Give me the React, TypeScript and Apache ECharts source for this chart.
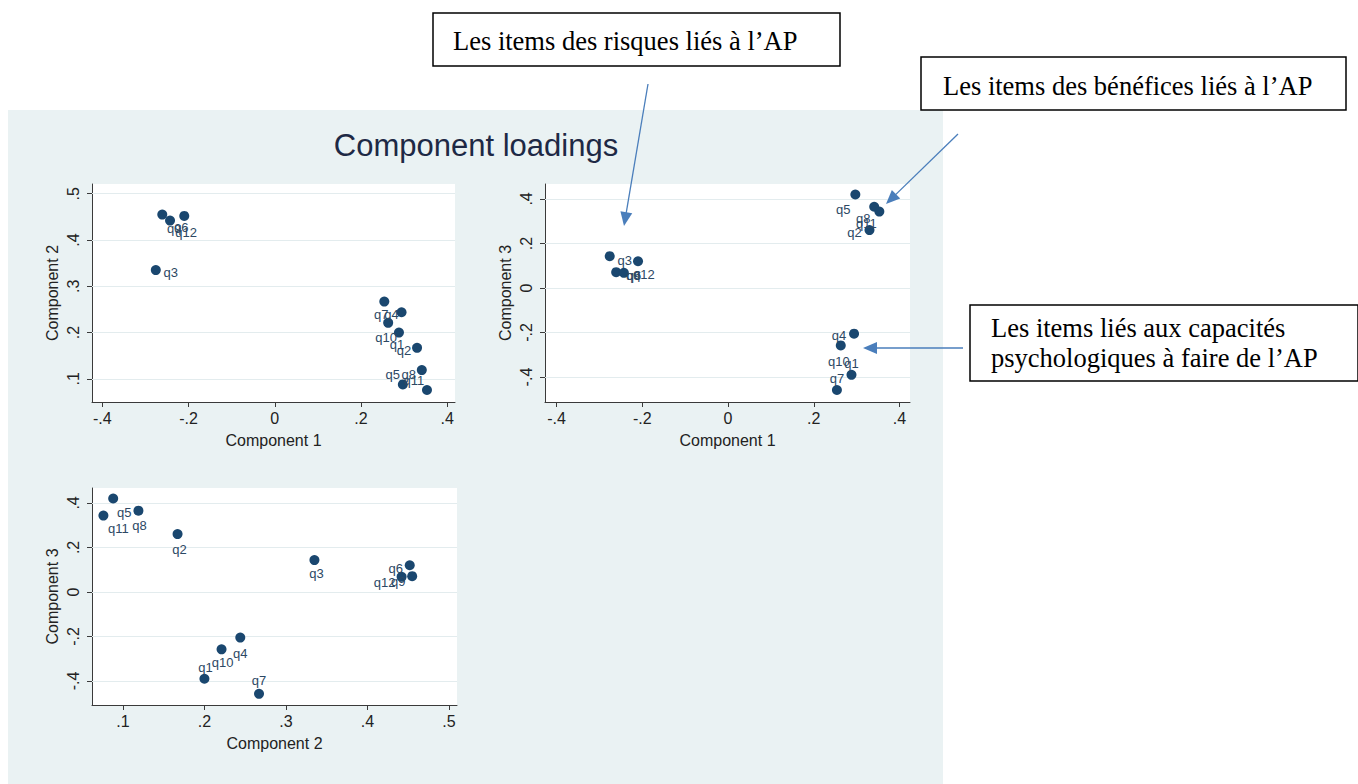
import { useEffect, useRef } from "react";
import * as echarts from "echarts";

// ---------- data ----------
const ITEMS = ["q1", "q2", "q3", "q4", "q5", "q6", "q7", "q8", "q9", "q10", "q11", "q12"];
const COMPONENT_1 = [0.288, 0.33, -0.276, 0.294, 0.297, -0.21, 0.254, 0.341, -0.261, 0.263, 0.353, -0.243];
const COMPONENT_2 = [0.2, 0.167, 0.335, 0.244, 0.088, 0.452, 0.267, 0.119, 0.455, 0.221, 0.076, 0.442];
const COMPONENT_3 = [-0.39, 0.26, 0.143, -0.205, 0.42, 0.12, -0.458, 0.365, 0.071, -0.258, 0.343, 0.068];

const TICKS_C1 = [-0.4, -0.2, 0, 0.2, 0.4];
const TICKS_C2 = [0.1, 0.2, 0.3, 0.4, 0.5];
const TICKS_C3 = [-0.4, -0.2, 0, 0.2, 0.4];

const TITLE = "Component loadings";
const NOTE_RISKS = "Les items des risques liés à l’AP";
const NOTE_BENEFITS = "Les items des bénéfices liés à l’AP";
const NOTE_CAPACITIES = ["Les items liés aux capacités", "psychologiques à faire de l’AP"];

// ---------- label placement (px offsets of each marker label) ----------
const LABEL_OFFSETS_12: Record<string, number[]> = {
  q1: [-2, 12], q2: [-13, 3], q3: [15, 2], q4: [-10, 2], q5: [-10, -10], q6: [-3, 12],
  q7: [-3, 13], q8: [-13, 4], q9: [12, 14], q10: [-2, 15], q11: [-13, -9], q12: [16, 12],
};
const LABEL_OFFSETS_13: Record<string, number[]> = {
  q1: [0, -11], q2: [-15, 2], q3: [15, 4], q4: [-15, 2], q5: [-12, 15], q6: [-4, 14],
  q7: [0, -11], q8: [-11, 12], q9: [17, 3], q10: [-2, 16], q11: [-13, 12], q12: [20, 2],
};
const LABEL_OFFSETS_23: Record<string, number[]> = {
  q1: [1, -11], q2: [2, 15], q3: [2, 13], q4: [0, 16], q5: [11, 14], q6: [-14, 3],
  q7: [0, -13], q8: [1, 15], q9: [-14, 5], q10: [1, 13], q11: [15, 13], q12: [-17, 6],
};

// ---------- styles ----------
const SANS = "'Liberation Sans', Arial, Helvetica, sans-serif";
const SERIF = "'Liberation Serif', 'Times New Roman', serif";
const NAVY = "#1A476F";
const LABEL_COLOR = "#2c4864";
const TEXT = "#222222";
const AXIS = "#3a3a3a";
const PANEL = "#EAF2F3";
const GRIDLINE = "#e3ecee";
const ARROW = "#4A7EBB";

const fmt = (v: number) => {
  if (Math.abs(v) < 1e-9) return "0";
  const s = v.toFixed(1);
  return s.replace("0.", ".");
};

function xAxisCfg(idx: number, min: number, max: number, ticks: number[], name: string) {
  return {
    type: "value",
    gridIndex: idx,
    min,
    max,
    name,
    nameLocation: "middle",
    nameGap: 30,
    nameTextStyle: { color: TEXT, fontSize: 16, fontFamily: SANS },
    axisLine: { show: true, onZero: false, lineStyle: { color: AXIS, width: 1 } },
    axisTick: { show: true, inside: false, length: 5, customValues: ticks, lineStyle: { color: AXIS } },
    axisLabel: { show: true, customValues: ticks, formatter: fmt, margin: 8, color: TEXT, fontSize: 16, fontFamily: SANS },
    splitLine: { show: false },
  };
}

function yAxisCfg(idx: number, min: number, max: number, ticks: number[], name: string) {
  return {
    type: "value",
    gridIndex: idx,
    min,
    max,
    name,
    nameLocation: "middle",
    nameGap: 32,
    nameTextStyle: { color: TEXT, fontSize: 16, fontFamily: SANS },
    axisLine: { show: true, onZero: false, lineStyle: { color: AXIS, width: 1 } },
    axisTick: { show: true, inside: false, length: 5, customValues: ticks, lineStyle: { color: AXIS } },
    axisLabel: { show: true, customValues: ticks, formatter: fmt, rotate: 90, margin: 11, color: TEXT, fontSize: 16, fontFamily: SANS },
    splitLine: { show: false },
  };
}

function seriesCfg(idx: number, xs: number[], ys: number[], yTicks: number[], offsets: Record<string, number[]>) {
  return {
    type: "scatter",
    xAxisIndex: idx,
    yAxisIndex: idx,
    symbol: "circle",
    symbolSize: 10,
    itemStyle: { color: NAVY, opacity: 1 },
    label: {
      show: true,
      position: "inside",
      formatter: "{b}",
      color: LABEL_COLOR,
      fontSize: 13,
      fontFamily: SANS,
    },
    data: ITEMS.map((name, i) => ({
      name,
      value: [xs[i], ys[i]],
      label: { offset: offsets[name] },
    })),
    markLine: {
      silent: true,
      z: 1,
      symbol: "none",
      label: { show: false },
      lineStyle: { color: GRIDLINE, width: 1, type: "solid" },
      data: yTicks.map((v) => ({ yAxis: v })),
    },
    z: 5,
  };
}

function arrow(x1: number, y1: number, x2: number, y2: number) {
  const dx = x2 - x1;
  const dy = y2 - y1;
  const len = Math.sqrt(dx * dx + dy * dy);
  const ux = dx / len;
  const uy = dy / len;
  const L = 14;
  const W = 6;
  const bx = x2 - ux * L;
  const by = y2 - uy * L;
  return [
    { type: "line", shape: { x1, y1, x2: bx + ux * 2, y2: by + uy * 2 }, style: { stroke: ARROW, lineWidth: 1.3 }, z: 10 },
    {
      type: "polygon",
      shape: { points: [[x2, y2], [bx - uy * W, by + ux * W], [bx + uy * W, by - ux * W]] },
      style: { fill: ARROW },
      z: 10,
    },
  ];
}

function noteBox(x: number, y: number, w: number, h: number, lines: string[], tx: number, ty: number, lh: number) {
  const els: any[] = [
    { type: "rect", shape: { x, y, width: w, height: h }, style: { fill: "#ffffff", stroke: "#000000", lineWidth: 1.5 }, z: 10 },
  ];
  lines.forEach((t, i) => {
    els.push({
      type: "text",
      x: tx,
      y: ty + i * lh,
      style: { text: t, fill: "#000000", fontSize: 26.5, fontFamily: SERIF, align: "left", verticalAlign: "middle" },
      z: 11,
    });
  });
  return els;
}

export default function App() {
  const ref = useRef<HTMLDivElement>(null);
  useEffect(() => {
    if (!ref.current) return;
    const chart = echarts.init(ref.current, null, { renderer: "svg" });
    const option: any = {
      animation: false,
      backgroundColor: "#ffffff",
      grid: [
        { left: 92, top: 184, width: 363, height: 218, show: true, backgroundColor: "#ffffff", borderWidth: 0 },
        { left: 545, top: 184, width: 365, height: 218, show: true, backgroundColor: "#ffffff", borderWidth: 0 },
        { left: 92, top: 488, width: 365, height: 217, show: true, backgroundColor: "#ffffff", borderWidth: 0 },
      ],
      xAxis: [
        xAxisCfg(0, -0.424, 0.418, TICKS_C1, "Component 1"),
        xAxisCfg(1, -0.427, 0.4245, TICKS_C1, "Component 1"),
        xAxisCfg(2, 0.062, 0.51, TICKS_C2, "Component 2"),
      ],
      yAxis: [
        yAxisCfg(0, 0.05, 0.521, TICKS_C2, "Component 2"),
        yAxisCfg(1, -0.512, 0.467, TICKS_C3, "Component 3"),
        yAxisCfg(2, -0.508, 0.467, TICKS_C3, "Component 3"),
      ],
      series: [
        seriesCfg(0, COMPONENT_1, COMPONENT_2, TICKS_C2, LABEL_OFFSETS_12),
        seriesCfg(1, COMPONENT_1, COMPONENT_3, TICKS_C3, LABEL_OFFSETS_13),
        seriesCfg(2, COMPONENT_2, COMPONENT_3, TICKS_C3, LABEL_OFFSETS_23),
      ],
      graphic: [
        { type: "rect", shape: { x: 8, y: 110, width: 935, height: 674 }, style: { fill: PANEL }, z: -100 },
        {
          type: "text",
          x: 476,
          y: 145,
          style: { text: TITLE, fill: "#1e2945", fontSize: 31, fontFamily: SANS, align: "center", verticalAlign: "middle" },
          z: 5,
        },
        ...noteBox(433, 13, 407, 53, [NOTE_RISKS], 453, 41, 30),
        ...noteBox(921, 57, 425, 53, [NOTE_BENEFITS], 943, 86, 30),
        ...noteBox(970, 305, 388, 76, NOTE_CAPACITIES, 991, 328, 30),
        ...arrow(648, 84, 624, 226),
        ...arrow(958, 134, 886, 204),
        ...arrow(963, 348, 863, 348),
      ],
    };
    chart.setOption(option);
    return () => chart.dispose();
  }, []);
  return <div ref={ref} style={{ position: "fixed", left: 0, top: 0, width: 1358, height: 784 }} />;
}
